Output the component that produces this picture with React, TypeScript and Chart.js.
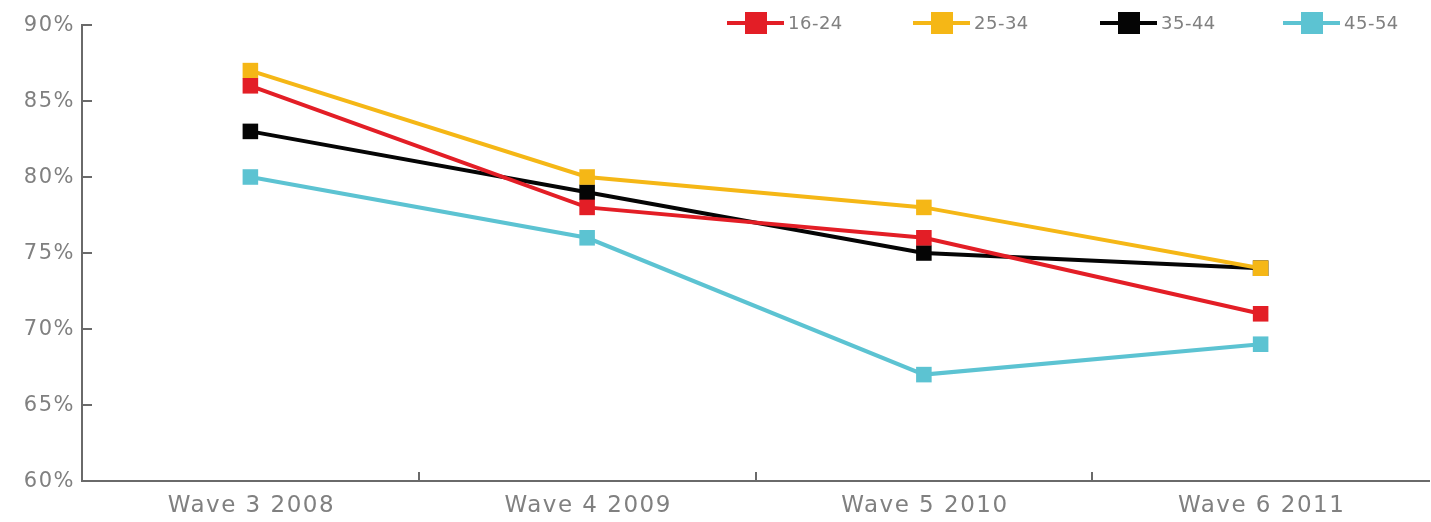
import React, { useEffect, useRef } from "react";
import { Chart, registerables } from "chart.js";

Chart.register(...registerables);

const waves = ["Wave 3 2008", "Wave 4 2009", "Wave 5 2010", "Wave 6 2011"];
const ageGroups = ["16-24", "25-34", "35-44", "45-54"];
const groupColors = ["#e31e26", "#f5b716", "#050505", "#5cc3d2"];
const share1624 = [86, 78, 76, 71];
const share2534 = [87, 80, 78, 74];
const share3544 = [83, 79, 75, 74];
const share4554 = [80, 76, 67, 69];
const yTicks = [60, 65, 70, 75, 80, 85, 90];

const seriesValues = [share1624, share2534, share3544, share4554];

const AXIS_COLOR = "#6a6a6a";
const TEXT_COLOR = "#808080";
const FONT_FAMILY = "'DejaVu Sans', sans-serif";

// Axis labels, short inner tick marks and the line-and-square legend.
const decorPlugin = {
  id: "decor",
  afterDraw(chart: any) {
    const ctx = chart.ctx;
    const area = chart.chartArea;
    const x = chart.scales.x;
    const y = chart.scales.y;
    ctx.save();

    // tick marks
    ctx.strokeStyle = AXIS_COLOR;
    ctx.lineWidth = 2;
    yTicks.forEach((v) => {
      if (v === y.min) return;
      const py = Math.round(y.getPixelForValue(v));
      ctx.beginPath();
      ctx.moveTo(area.left, py);
      ctx.lineTo(area.left + 10, py);
      ctx.stroke();
    });
    for (let i = 1; i < waves.length; i++) {
      const px = Math.round((x.getPixelForValue(i - 1) + x.getPixelForValue(i)) / 2);
      ctx.beginPath();
      ctx.moveTo(px, area.bottom);
      ctx.lineTo(px, area.bottom - 9);
      ctx.stroke();
    }

    ctx.fillStyle = TEXT_COLOR;
    ctx.textBaseline = "middle";

    // y labels
    ctx.font = `21px ${FONT_FAMILY}`;
    (ctx as any).letterSpacing = "1.5px";
    ctx.textAlign = "right";
    yTicks.forEach((v) => {
      ctx.fillText(`${v}%`, area.left - 7, y.getPixelForValue(v) + 1);
    });

    // x labels
    ctx.font = `23px ${FONT_FAMILY}`;
    (ctx as any).letterSpacing = "1.5px";
    ctx.textAlign = "center";
    waves.forEach((w, i) => {
      ctx.fillText(w, x.getPixelForValue(i) + 1, area.bottom + 25);
    });

    // legend across the top right
    ctx.font = `18px ${FONT_FAMILY}`;
    (ctx as any).letterSpacing = "0.5px";
    ctx.textAlign = "left";
    const ly = 23;
    const itemStarts = [727, 913, 1100, 1283];
    ageGroups.forEach((name, i) => {
      const sx = itemStarts[i];
      ctx.strokeStyle = groupColors[i];
      ctx.lineWidth = 4;
      ctx.beginPath();
      ctx.moveTo(sx, ly);
      ctx.lineTo(sx + 57, ly);
      ctx.stroke();
      ctx.fillStyle = groupColors[i];
      ctx.fillRect(sx + 18, ly - 11, 22, 22);
      ctx.fillStyle = TEXT_COLOR;
      ctx.fillText(name, sx + 61, ly + 1);
    });
    ctx.restore();
  },
};

export default function App() {
  const canvasRef = useRef<HTMLCanvasElement | null>(null);

  useEffect(() => {
    if (!canvasRef.current) return;
    const chart = new Chart(canvasRef.current, {
      type: "line",
      data: {
        labels: waves,
        datasets: ageGroups.map((name, i) => ({
          label: name,
          data: seriesValues[i],
          borderColor: groupColors[i],
          backgroundColor: groupColors[i],
          borderWidth: 4,
          tension: 0,
          pointStyle: "rect",
          pointRadius: 11,
          pointHoverRadius: 11,
          pointBorderWidth: 0,
        })),
      },
      options: {
        animation: false,
        responsive: false,
        maintainAspectRatio: false,
        layout: { padding: { top: 25, right: 2, left: 0, bottom: 0 } },
        plugins: {
          legend: { display: false },
          tooltip: { enabled: false },
        },
        scales: {
          x: {
            offset: true,
            grid: { display: false, drawTicks: false },
            border: { display: true, color: AXIS_COLOR, width: 2 },
            ticks: { display: false },
            afterFit(scale: any) {
              scale.height = 41;
            },
          },
          y: {
            min: 60,
            max: 90,
            afterBuildTicks(scale: any) {
              scale.ticks = yTicks.map((v) => ({ value: v }));
            },
            grid: { display: false, drawTicks: false },
            border: { display: true, color: AXIS_COLOR, width: 2 },
            ticks: { display: false },
            afterFit(scale: any) {
              scale.width = 82;
            },
          },
        },
      },
      plugins: [decorPlugin],
    });
    return () => chart.destroy();
  }, []);

  return (
    <div
      style={{
        position: "fixed",
        left: 0,
        top: 0,
        width: 1431,
        height: 522,
        overflow: "hidden",
        background: "#fff",
      }}
    >
      <canvas ref={canvasRef} width={1440} height={522} style={{ display: "block" }} />
    </div>
  );
}
